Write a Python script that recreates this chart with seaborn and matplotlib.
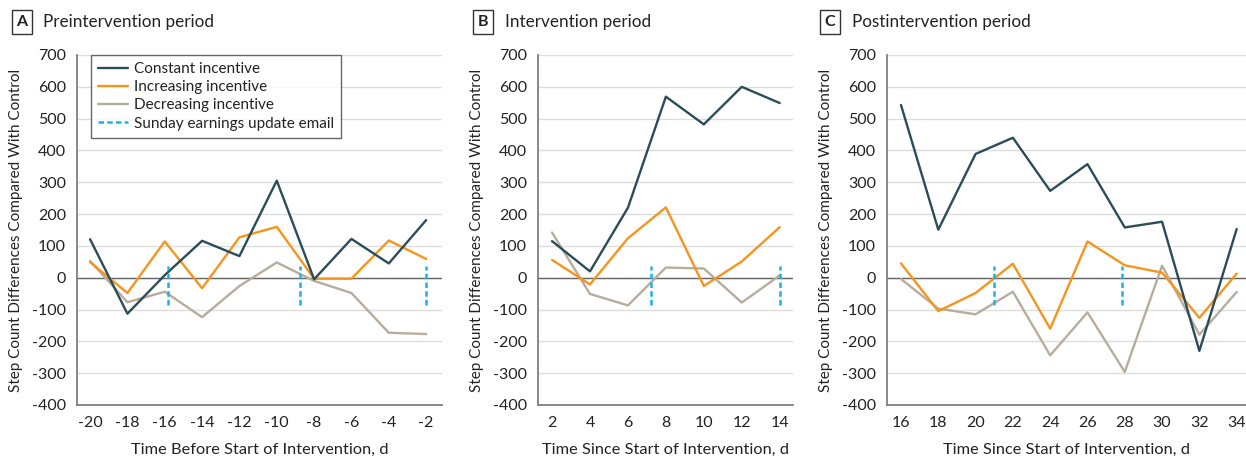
import numpy as np
import pandas as pd
import seaborn as sns
import matplotlib.pyplot as plt
from matplotlib.lines import Line2D

# values (step count difference vs control)
pre_days = [-20, -18, -16, -14, -12, -10, -8, -6, -4, -2]
pre_constant = [121, -113, 8, 116, 68, 305, -5, 122, 45, 181]
pre_increasing = [49, -48, 114, -33, 127, 160, -3, -3, 117, 59]
pre_decreasing = [53, -77, -44, -124, -26, 48, -10, -48, -173, -177]
pre_emails = [-15.8, -8.75, -2]

int_days = [2, 4, 6, 8, 10, 12, 14]
int_constant = [115, 20, 220, 569, 482, 600, 549]
int_increasing = [56, -21, 124, 221, -26, 51, 159]
int_decreasing = [142, -51, -87, 32, 29, -78, 7]
int_emails = [7.2, 14]

post_days = [16, 18, 20, 22, 24, 26, 28, 30, 32, 34]
post_constant = [543, 151, 389, 440, 273, 357, 158, 176, -230, 153]
post_increasing = [45, -105, -48, 44, -160, 114, 39, 16, -126, 13]
post_decreasing = [-4, -97, -115, -44, -244, -109, -296, 38, -179, -45]
post_emails = [21, 27.85]

groups = ['Constant incentive', 'Increasing incentive', 'Decreasing incentive']
colors = {'Constant incentive': '#2b4c59',
          'Increasing incentive': '#f7941d',
          'Decreasing incentive': '#b7ad9d'}
email_color = '#1cb1e7'


def make_df(days, const, inc, dec):
    rows = []
    for g, vals in zip(groups, [const, inc, dec]):
        for d, v in zip(days, vals):
            rows.append({'day': d, 'steps': v, 'group': g})
    return pd.DataFrame(rows)


sns.set_style('white')
plt.rcParams['font.family'] = ['Lato', 'DejaVu Sans']
plt.rcParams['axes.unicode_minus'] = False

fig = plt.figure(figsize=(12.46, 4.59), dpi=100)
W, H = 1246, 459
bottom = 1 - 405 / H
height = (405 - 55) / H
ax_a = fig.add_axes([77 / W, bottom, (442 - 77) / W, height])
ax_b = fig.add_axes([538 / W, bottom, (793 - 538) / W, height])
ax_c = fig.add_axes([887 / W, bottom, (1246 - 887) / W, height])

panels = [
    (ax_a, make_df(pre_days, pre_constant, pre_increasing, pre_decreasing), pre_emails,
     pre_days, (-20.7, -1.15), 'Time Before Start of Intervention, d'),
    (ax_b, make_df(int_days, int_constant, int_increasing, int_decreasing), int_emails,
     int_days, (1.26, 14.7), 'Time Since Start of Intervention, d'),
    (ax_c, make_df(post_days, post_constant, post_increasing, post_decreasing), post_emails,
     post_days, (15.25, 34.5), 'Time Since Start of Intervention, d'),
]

for ax, df, emails, days, xlim, xlabel in panels:
    ax.yaxis.grid(True, color='#dddddd', lw=1)
    ax.set_axisbelow(True)
    ax.axhline(0, color='#666666', lw=1, zorder=1)
    sns.lineplot(data=df, x='day', y='steps', hue='group', palette=colors,
                 hue_order=groups[::-1], linewidth=1.7, ax=ax, legend=False, zorder=3)
    ax.vlines(emails, -85, 38, colors=email_color, linestyles=(0, (2.2, 1.3)),
              lw=1.8, zorder=4)
    ax.set_xlim(*xlim)
    ax.set_ylim(-400, 700)
    ax.set_yticks(range(-400, 701, 100))
    ax.set_xticks(days)
    for s in ['top', 'right']:
        ax.spines[s].set_visible(False)
    for s in ['left', 'bottom']:
        ax.spines[s].set_color('#808080')
        ax.spines[s].set_linewidth(1.3)
    ax.tick_params(direction='out', length=5, width=1, color='#808080',
                   labelsize=11.5, labelcolor='#222222', pad=3)
    ax.set_xlabel(xlabel, fontsize=11.8, color='#222222', labelpad=9)
    ax.set_ylabel('Step Count Differences Compared With Control', fontsize=11,
                  color='#222222', labelpad=6)

handles = [Line2D([], [], color=colors[g], lw=1.7) for g in groups]
handles.append(Line2D([], [], color=email_color, lw=1.8, ls=(0, (2.2, 1.3))))
leg = ax_a.legend(handles, groups + ['Sunday earnings update email'],
                  loc='upper left', bbox_to_anchor=(14 / 365, 1.0), fontsize=11,
                  frameon=True, fancybox=False, borderpad=0.45, labelspacing=0.28,
                  handlelength=2.0, handletextpad=0.35, borderaxespad=0)
leg.get_frame().set_edgecolor('#444444')
leg.get_frame().set_linewidth(1)
for t in leg.get_texts():
    t.set_color('#222222')

titles = [(22, 'A', 43, 'Preintervention period'),
          (483, 'B', 505, 'Intervention period'),
          (830, 'C', 852, 'Postintervention period')]
for bx, letter, tx, title in titles:
    fig.text(bx / W, 1 - 22 / H, letter, ha='center', va='center', fontsize=11.5,
             fontweight='bold', color='#222222',
             bbox=dict(boxstyle='square,pad=0.3', fc='white', ec='#333333', lw=1))
    fig.text(tx / W, 1 - 22 / H, title, ha='left', va='center', fontsize=12.3,
             color='#222222')

fig.savefig('out.png', dpi=100)
